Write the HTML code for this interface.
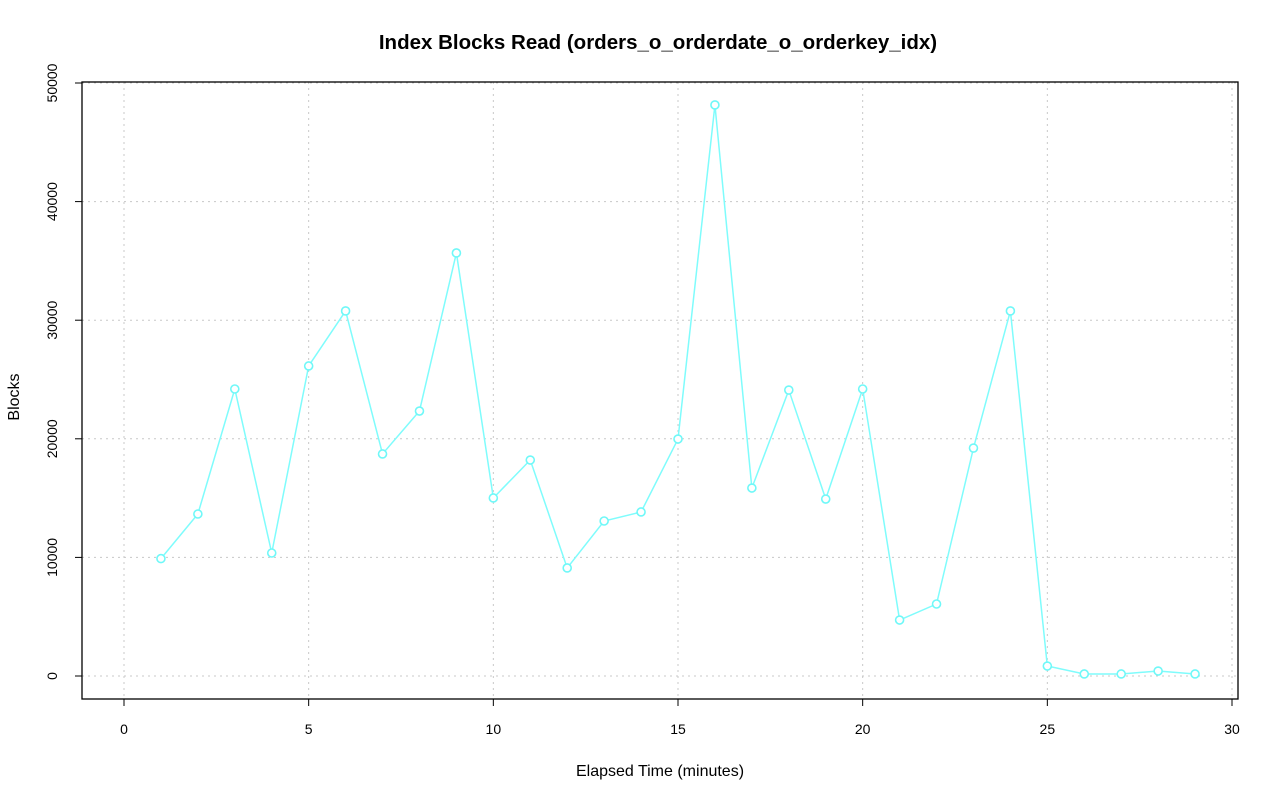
<!DOCTYPE html>
<html><head><meta charset="utf-8"><style>
body{margin:0;background:#fff;}
svg{display:block;font-family:"Liberation Sans",sans-serif;}
</style></head><body>
<svg id="chart" width="1280" height="801" xmlns="http://www.w3.org/2000/svg">
<rect width="1280" height="801" fill="#fff"/>
<text x="658" y="49" text-anchor="middle" font-size="20.5" font-weight="bold">Index Blocks Read (orders_o_orderdate_o_orderkey_idx)</text>
<text x="660" y="776" text-anchor="middle" font-size="16">Elapsed Time (minutes)</text>
<text transform="translate(19,397) rotate(-90)" text-anchor="middle" font-size="16">Blocks</text>
<g id="grid"></g><g id="axes"></g><g id="series"></g>
<rect x="82" y="82" width="1156" height="617" fill="none" stroke="#000" stroke-width="1.3"/>
</svg>
<script>
const xTicks=[0,5,10,15,20,25,30];
const yTicks=[0,10000,20000,30000,40000,50000];
const minutes=[1,2,3,4,5,6,7,8,9,10,11,12,13,14,15,16,17,18,19,20,21,22,23,24,25,26,27,28,29];
const blocks=[9900,13660,24200,10370,26140,30780,18720,22340,35670,15010,18210,9110,13070,13830,19980,48150,15850,24110,14920,24200,4720,6070,19220,30780,840,170,170,420,170];
const NS="http://www.w3.org/2000/svg";
const X=v=>124+v*(1232-124)/30;
const Y=v=>676-v*(676-83)/50000;
function mk(t,a,p){const e=document.createElementNS(NS,t);for(const k in a)e.setAttribute(k,a[k]);p.appendChild(e);return e;}
const grid=document.getElementById('grid'),axes=document.getElementById('axes'),ser=document.getElementById('series');
xTicks.forEach(v=>{
 const g=mk('line',{x1:X(v),x2:X(v),y1:82,y2:699,stroke:'#c8c8c8','stroke-dasharray':'2,4'},grid);
 
 
 const t=mk('line',{x1:X(v),x2:X(v),y1:699,y2:706,stroke:'#000'},axes);
 
 
 const l=mk('text',{x:X(v),y:734,'text-anchor':'middle','font-size':'14'},axes);
 l.textContent=v;
 
 
});
yTicks.forEach(v=>{
 const g=mk('line',{x1:82,x2:1238,y1:Y(v),y2:Y(v),stroke:'#c8c8c8','stroke-dasharray':'2,4'},grid);
 
 
 const t=mk('line',{x1:75,x2:82,y1:Y(v),y2:Y(v),stroke:'#000'},axes);
 
 
 const l=mk('text',{transform:`translate(57,${Y(v)}) rotate(-90)`,'text-anchor':'middle','font-size':'14'},axes);
 l.textContent=v;
 
 
});
const pl=mk('polyline',{points:minutes.map((m,i)=>X(m)+','+Y(blocks[i])).join(' '),fill:'none',stroke:'#7ffcfc','stroke-width':'1.5'},ser);


minutes.forEach((m,i)=>{
 const c=mk('circle',{cx:X(m),cy:Y(blocks[i]),r:4,fill:'#fff',stroke:'#6ff8f8','stroke-width':'1.6'},ser);
 
 
});
</script>
</body></html>
